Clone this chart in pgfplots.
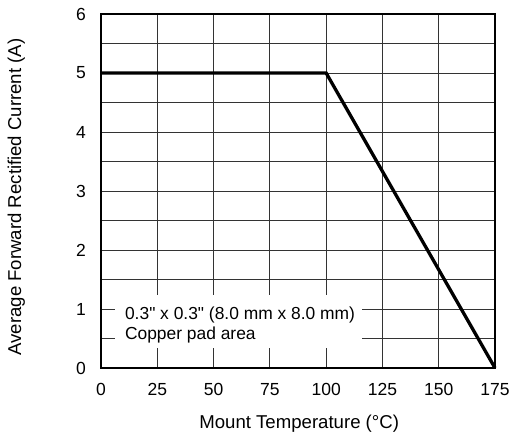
\documentclass[border=0pt]{standalone}
\usepackage{fontspec}
\setmainfont{Liberation Sans}[Ligatures=TeXOff]
\usepackage{pgfplots}
\pgfplotsset{compat=1.18}

\begin{document}
\begin{tikzpicture}
  \begin{axis}[
    name=ax,
    scale only axis,
    width=394pt, height=354pt,
    xmin=0, xmax=175, ymin=0, ymax=6,
    xtick={0,25,...,175},
    ytick={0,1,...,6},
    minor ytick={0.5,1.5,...,5.5},
    grid=both,
    major grid style={black!80, line width=0.9pt},
    minor grid style={black!80, line width=0.9pt},
    major tick length=0pt, minor tick length=0pt,
    axis line style={line width=2.7pt},
    font=\fontsize{17.5}{21}\selectfont,
    /pgf/number format/assume math mode=true,
    xticklabel shift=11.5pt,
    yticklabel shift=11.5pt,
    xlabel={Mount Temperature (°C)},
    ylabel={Average Forward Rectified Current (A)},
    label style={font=\fontsize{18.6}{22}\selectfont},
    xlabel style={at={(axis description cs:0.503,-0.1695)}, anchor=base},
    ylabel style={at={(axis description cs:-0.2030,0.483)}, anchor=base},
    clip=false,
  ]
    % derating curve
    \addplot[black, line width=3.3pt, line join=miter] coordinates {
      (0, 5)
      (100, 5)
      (175, 0)
    };
    % note box
    \fill[white] (axis cs:6.2,0.34) rectangle (axis cs:116,1.237);
    \node[anchor=north west, align=left, inner sep=0pt, font=\fontsize{17.4}{20.5}\selectfont]
      at (axis cs:10.6,1.04) {0.3" x 0.3" (8.0 mm x 8.0 mm)\\Copper pad area};
  \end{axis}
  \pgfresetboundingbox
  \path ([shift={(-101pt,-66pt)}]ax.south west) rectangle ([shift={(16pt,14pt)}]ax.north east);
\end{tikzpicture}
\end{document}
